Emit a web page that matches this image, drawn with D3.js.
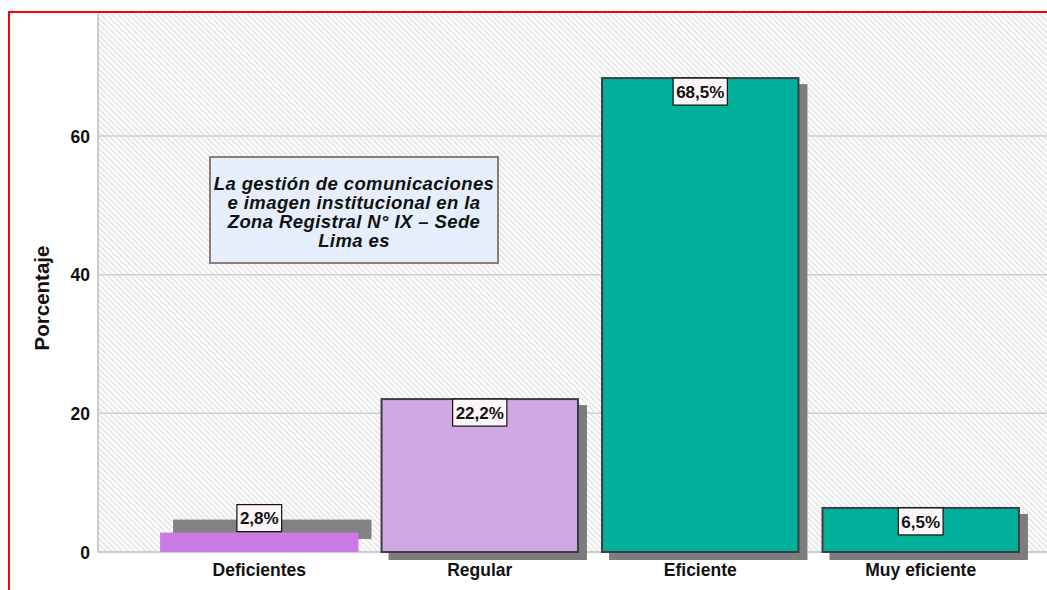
<!DOCTYPE html>
<html>
<head>
<meta charset="utf-8">
<script src="https://cdn.jsdelivr.net/npm/d3@7"></script>
<style>
  html, body { margin: 0; padding: 0; background: #ffffff; }
  svg { display: block; font-family: "Liberation Sans", Arial, sans-serif; }
</style>
</head>
<body>
<svg id="chart" width="1047" height="590"></svg>
<script>
// Distribution of ratings (percent of respondents)
const categories = ["Deficientes", "Regular", "Eficiente", "Muy eficiente"];
const percentages = [2.8, 22.2, 68.5, 6.5];
const yTicks = [0, 20, 40, 60];
const yAxisTitle = "Porcentaje";
const legendLines = [
  "La gestión de comunicaciones",
  "e imagen institucional en la",
  "Zona Registral N° IX – Sede",
  "Lima es"
];

const barColors = ["#c97be3", "#d0a9e3", "#00b09b", "#00b09b"];

const svg = d3.select("#chart");
const W = 1047, H = 590;
const plot = { left: 99, top: 14, right: 1081, bottom: 552 };

// hatched plot background
const defs = svg.append("defs");
const pat = defs.append("pattern")
  .attr("id", "hatch")
  .attr("patternUnits", "userSpaceOnUse")
  .attr("width", 4).attr("height", 4)
  .attr("patternTransform", "rotate(-45)");
pat.append("rect").attr("width", 4).attr("height", 4).attr("fill", "#ffffff");
pat.append("line").attr("x1", 1).attr("y1", 0).attr("x2", 1).attr("y2", 4)
  .attr("stroke", "#e6e6e6").attr("stroke-width", 1.8);

const x = d3.scaleBand()
  .domain(categories)
  .range([plot.left, plot.right])
  .paddingInner(0.1)
  .paddingOuter(0.277);

const y = d3.scaleLinear()
  .domain([0, 77.6])
  .range([plot.bottom, plot.top]);

svg.append("rect")
  .attr("x", plot.left).attr("y", plot.top)
  .attr("width", W - plot.left).attr("height", plot.bottom - plot.top)
  .attr("fill", "url(#hatch)");

// gridlines
svg.append("g")
  .selectAll("line")
  .data(yTicks.filter(t => t > 0))
  .join("line")
  .attr("x1", plot.left).attr("x2", W)
  .attr("y1", d => y(d)).attr("y2", d => y(d))
  .attr("stroke", "#cfcfcf").attr("stroke-width", 1.5);

// axis lines
svg.append("line")
  .attr("x1", plot.left).attr("x2", W)
  .attr("y1", plot.bottom).attr("y2", plot.bottom)
  .attr("stroke", "#cccccc").attr("stroke-width", 2);
svg.append("line")
  .attr("x1", plot.left - 1).attr("x2", plot.left - 1)
  .attr("y1", plot.top).attr("y2", plot.bottom + 1)
  .attr("stroke", "#cccccc").attr("stroke-width", 2);

// y axis tick labels
const yAxis = d3.axisLeft(y).tickValues(yTicks).tickSize(0).tickPadding(9);
const yg = svg.append("g")
  .attr("transform", `translate(${plot.left},0)`)
  .call(yAxis);
yg.select(".domain").remove();
yg.selectAll("text")
  .attr("font-family", "Liberation Sans, Arial, sans-serif")
  .attr("font-size", 17.5).attr("font-weight", "bold").attr("fill", "#111")
  .attr("dy", "0.36em");

// y axis title
svg.append("text")
  .attr("transform", `translate(49,${(plot.top + plot.bottom) / 2 + 15}) rotate(-90)`)
  .attr("text-anchor", "middle")
  .attr("font-size", 20.5).attr("font-weight", "bold").attr("fill", "#111")
  .text(yAxisTitle);

// x axis labels
const xAxis = d3.axisBottom(x).tickSize(0).tickPadding(12);
const xg = svg.append("g")
  .attr("transform", `translate(0,${plot.bottom})`)
  .call(xAxis);
xg.select(".domain").remove();
xg.selectAll("text")
  .attr("font-family", "Liberation Sans, Arial, sans-serif")
  .attr("font-size", 17.5).attr("font-weight", "bold").attr("fill", "#111");

// bars with drop shadows
const data = categories.map((c, i) => ({ cat: c, val: percentages[i], i }));
const bars = svg.append("g");
data.forEach(d => {
  const bx = x(d.cat), bw = x.bandwidth();
  const by = y(d.val), bh = plot.bottom - y(d.val);
  const small = d.i === 0;
  if (small) {
    bars.append("rect")
      .attr("x", bx + 13).attr("y", by - 13)
      .attr("width", bw).attr("height", bh)
      .attr("fill", "#828282");
    bars.append("rect")
      .attr("x", bx).attr("y", by)
      .attr("width", bw).attr("height", bh)
      .attr("fill", barColors[d.i]);
  } else {
    bars.append("rect")
      .attr("x", bx + 8).attr("y", by + 7)
      .attr("width", bw).attr("height", bh + 1)
      .attr("fill", "#7d7d7d");
    bars.append("rect")
      .attr("x", bx + 1).attr("y", by + 1)
      .attr("width", bw - 2).attr("height", bh - 1)
      .attr("fill", barColors[d.i])
      .attr("stroke", "#3d3d48").attr("stroke-width", 2);
  }
});

// value labels
const labH = 27;
data.forEach(d => {
  const cx = x(d.cat) + x.bandwidth() / 2;
  const by = y(d.val);
  const bh = plot.bottom - by;
  const top = bh < labH ? by - labH - 1 : by + 1;
  const g = svg.append("g");
  const t = g.append("text")
    .attr("x", cx).attr("y", top + labH / 2)
    .attr("dy", "0.36em")
    .attr("text-anchor", "middle")
    .attr("font-size", 17).attr("font-weight", "bold").attr("fill", "#111")
    .text(d.val.toFixed(1).replace(".", ",") + "%");
  const tw = t.node().getComputedTextLength();
  g.insert("rect", "text")
    .attr("x", cx - tw / 2 - 3).attr("y", top)
    .attr("width", tw + 6).attr("height", labH)
    .attr("fill", "#fdf6f8").attr("stroke", "#111").attr("stroke-width", 1.2);
});

// annotation box
const box = { x: 210, y: 157, w: 288, h: 106 };
svg.append("rect")
  .attr("x", box.x).attr("y", box.y).attr("width", box.w).attr("height", box.h)
  .attr("fill", "#e5eefa").attr("stroke", "#8c7c7c").attr("stroke-width", 2);
svg.append("g")
  .selectAll("text")
  .data(legendLines)
  .join("text")
  .attr("x", box.x + box.w / 2)
  .attr("y", (d, i) => box.y + 33 + i * 19)
  .attr("text-anchor", "middle")
  .attr("font-size", 18.5).attr("font-weight", "bold").attr("font-style", "italic")
  .attr("letter-spacing", 0.4)
  .attr("fill", "#111")
  .text(d => d);

// outer frame
svg.append("rect")
  .attr("x", 9).attr("y", 12)
  .attr("width", W + 20).attr("height", H + 20)
  .attr("fill", "none").attr("stroke", "#ff0000").attr("stroke-width", 2);
</script>
</body>
</html>
